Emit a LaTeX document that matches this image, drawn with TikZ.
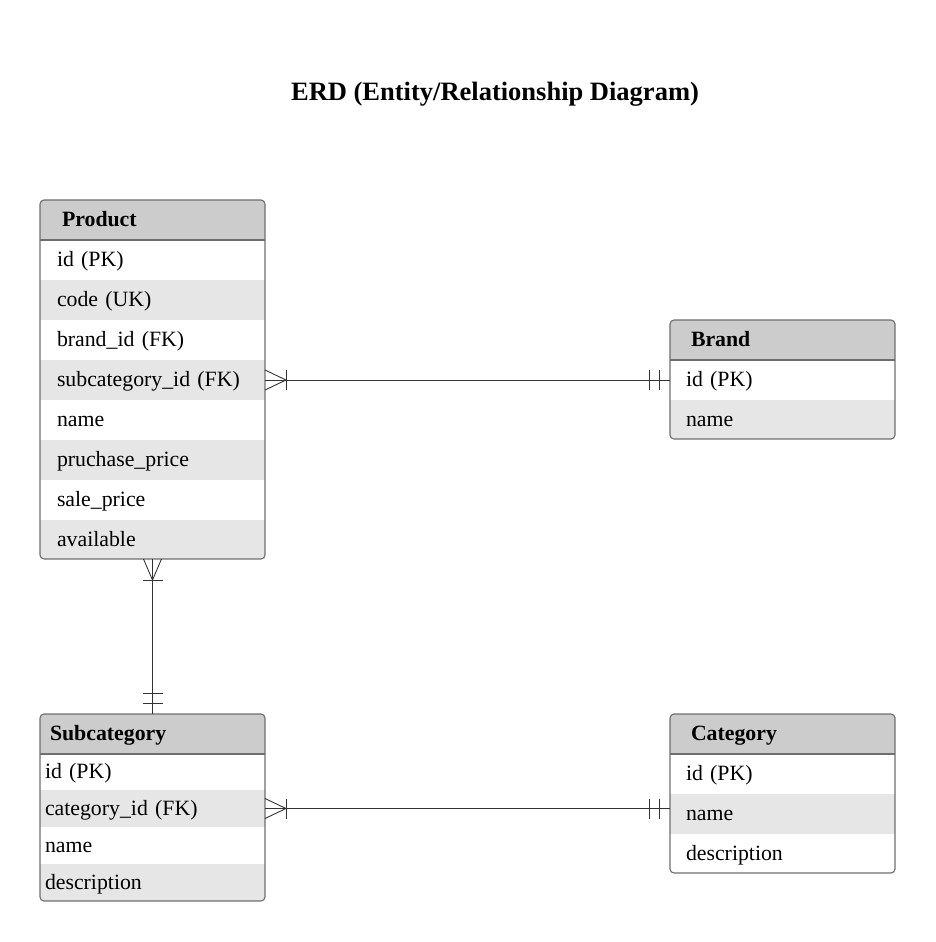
\documentclass[tikz,border=0pt]{standalone}
\usepackage{fontspec}
\setmainfont{Liberation Serif}
\usetikzlibrary{positioning,calc}

\definecolor{headgrey}{HTML}{CCCCCC}
\definecolor{rowgrey}{HTML}{E6E6E6}
\definecolor{framegrey}{HTML}{6E6E6E}
\definecolor{linegrey}{HTML}{333333}

\begin{document}
\begin{tikzpicture}[x=1pt,y=-1pt,
        every node/.style={font=\fontsize{21.8}{26}\selectfont},
        field/.style 2 args={anchor=north west,inner xsep=#1,text width=#2,
            align=left,minimum height=40pt,inner ysep=0pt,outer sep=0pt,
            text height=16pt,text depth=3pt},
        head/.style={fill=headgrey,font=\fontsize{21.8}{26}\selectfont\bfseries},
        light/.style={fill=white},
        dark/.style={fill=rowgrey},
        frame/.style={draw=framegrey,line width=1.1pt,rounded corners=4pt},
        rel/.style={draw=linegrey,line width=0.9pt}]
        \useasboundingbox (0,0) rectangle (935,942);

        \node[font=\fontsize{26.5}{30}\selectfont\bfseries] (title) at (495,94) {ERD (Entity/Relationship Diagram)};

        %%% Product
        \begin{scope}
            \clip[rounded corners=4pt] (40,200) rectangle (265,559);
            \node[field={22pt}{181pt},head] (phead) at (40,200) {Product};
            \node[field={17pt}{191pt},light] (p1) at (40,240) {id (PK)};
            \node[field={17pt}{191pt},dark] (p2) at (40,280) {code (UK)};
            \node[field={17pt}{191pt},light] (p3) at (40,320) {brand\_id (FK)};
            \node[field={17pt}{191pt},dark] (p4) at (40,360) {subcategory\_id (FK)};
            \node[field={17pt}{191pt},light] (p5) at (40,400) {name};
            \node[field={17pt}{191pt},dark] (p6) at (40,440) {pruchase\_price};
            \node[field={17pt}{191pt},light] (p7) at (40,480) {sale\_price};
            \node[field={17pt}{191pt},dark,minimum height=39pt] (p8) at (40,520) {available};
        \end{scope}
        \draw[frame] (phead.north west) rectangle (p8.south east);
        \draw[draw=framegrey,line width=1.1pt] (phead.south west) -- (phead.south east);

        %%% Brand
        \begin{scope}
            \clip[rounded corners=4pt] (670,320) rectangle (895,439);
            \node[field={21pt}{183pt},head] (bhead) at (670,320) {Brand};
            \node[field={16pt}{193pt},light] (b1) at (670,360) {id (PK)};
            \node[field={16pt}{193pt},dark,minimum height=39pt] (b2) at (670,400) {name};
        \end{scope}
        \draw[frame] (bhead.north west) rectangle (b2.south east);
        \draw[draw=framegrey,line width=1.1pt] (bhead.south west) -- (bhead.south east);

        %%% Subcategory
        \begin{scope}
            \clip[rounded corners=4pt] (40,714) rectangle (265,901);
            \node[field={10pt}{205pt},head] (shead) at (40,714) {Subcategory};
            \node[field={5pt}{215pt},light,minimum height=36pt] (s1) at (40,754) {id (PK)};
            \node[field={5pt}{215pt},dark,minimum height=37pt] (s2) at (40,790) {category\_id (FK)};
            \node[field={5pt}{215pt},light,minimum height=37pt] (s3) at (40,827) {name};
            \node[field={5pt}{215pt},dark,minimum height=37pt] (s4) at (40,864) {description};
        \end{scope}
        \draw[frame] (shead.north west) rectangle (s4.south east);
        \draw[draw=framegrey,line width=1.1pt] (shead.south west) -- (shead.south east);

        %%% Category
        \begin{scope}
            \clip[rounded corners=4pt] (670,714) rectangle (895,873);
            \node[field={21pt}{183pt},head] (chead) at (670,714) {Category};
            \node[field={16pt}{193pt},light] (c1) at (670,754) {id (PK)};
            \node[field={16pt}{193pt},dark] (c2) at (670,794) {name};
            \node[field={16pt}{193pt},light,minimum height=39pt] (c3) at (670,834) {description};
        \end{scope}
        \draw[frame] (chead.north west) rectangle (c3.south east);
        \draw[draw=framegrey,line width=1.1pt] (chead.south west) -- (chead.south east);

        %%% Relations
        % product -- brand
        \draw[rel] (p4.east) -- (b1.west);
        \draw[rel] ($(p4.east)+(0,-10)$) -- ($(p4.east)+(21,0)$) -- ($(p4.east)+(0,10)$);
        \draw[rel] ($(p4.east)+(21,-10)$) -- ++(0,20);
        \draw[rel] ($(b1.west)+(-21,-10)$) -- ++(0,20);
        \draw[rel] ($(b1.west)+(-11,-10)$) -- ++(0,20);

        % product -- subcategory
        \draw[rel] (p8.south) -- (shead.north);
        \draw[rel] ($(p8.south)+(-9,0)$) -- ($(p8.south)+(0,21)$) -- ($(p8.south)+(9,0)$);
        \draw[rel] ($(p8.south)+(-10,21)$) -- ++(20,0);
        \draw[rel] ($(shead.north)+(-10,-21)$) -- ++(20,0);
        \draw[rel] ($(shead.north)+(-10,-11)$) -- ++(20,0);

        % subcategory -- category
        \draw[rel] (s2.east) -- (s2.east -| c2.west);
        \draw[rel] ($(s2.east)+(0,-10)$) -- ($(s2.east)+(21,0)$) -- ($(s2.east)+(0,10)$);
        \draw[rel] ($(s2.east)+(21,-10)$) -- ++(0,20);
        \draw[rel] ($(s2.east -| c2.west)+(-21,-10)$) -- ++(0,20);
        \draw[rel] ($(s2.east -| c2.west)+(-11,-10)$) -- ++(0,20);
    \end{tikzpicture}
\end{document}
